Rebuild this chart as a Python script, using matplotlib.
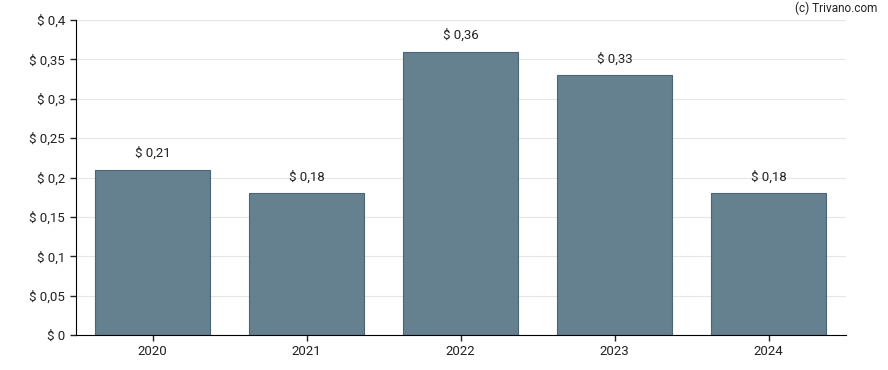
import matplotlib.pyplot as plt
import matplotlib.ticker as mticker

plt.rcParams['font.family'] = ['Roboto', 'DejaVu Sans']

# Data
years = ['2020', '2021', '2022', '2023', '2024']
values = [0.21, 0.18, 0.36, 0.33, 0.18]
value_labels = ['$ 0,21', '$ 0,18', '$ 0,36', '$ 0,33', '$ 0,18']
y_ticks = [0, 0.05, 0.1, 0.15, 0.2, 0.25, 0.3, 0.35, 0.4]
y_tick_labels = ['$ 0', '$ 0,05', '$ 0,1', '$ 0,15', '$ 0,2', '$ 0,25', '$ 0,3', '$ 0,35', '$ 0,4']

fig = plt.figure(figsize=(8.88, 3.7), dpi=100)
ax = fig.add_axes([75.5 / 888, 1 - 335 / 370, (845.5 - 75.5) / 888, (335 - 20) / 370])

x = range(len(years))
ax.bar(x, values, width=0.745, color='#65808f', edgecolor='#4a6478', linewidth=0.8, zorder=2)

for i, (v, lab) in enumerate(zip(values, value_labels)):
    ax.annotate(lab, (i, v), xytext=(0, 7), textcoords='offset points',
                ha='center', va='bottom', fontsize=9.5, color='#222222')

ax.set_xlim(-0.5, len(years) - 0.5)
ax.set_ylim(0, 0.4)
ax.set_xticks(list(x))
ax.set_xticklabels(years)
ax.set_yticks(y_ticks)
ax.set_yticklabels(y_tick_labels)
ax.tick_params(axis='both', labelsize=9.5, colors='#222222', length=4, width=1)
ax.tick_params(axis='x', pad=3)

ax.grid(axis='y', color='#e6e6e6', linewidth=0.8, zorder=0)
ax.set_axisbelow(True)
for side in ['top', 'right']:
    ax.spines[side].set_visible(False)
ax.spines['left'].set_color('#000000')
ax.spines['bottom'].set_color('#000000')

fig.text(877 / 888, 1 - 8 / 370, '(c) Trivano.com', ha='right', va='center',
         fontsize=8.5, color='#222222')

fig.savefig('out.png', dpi=100)
